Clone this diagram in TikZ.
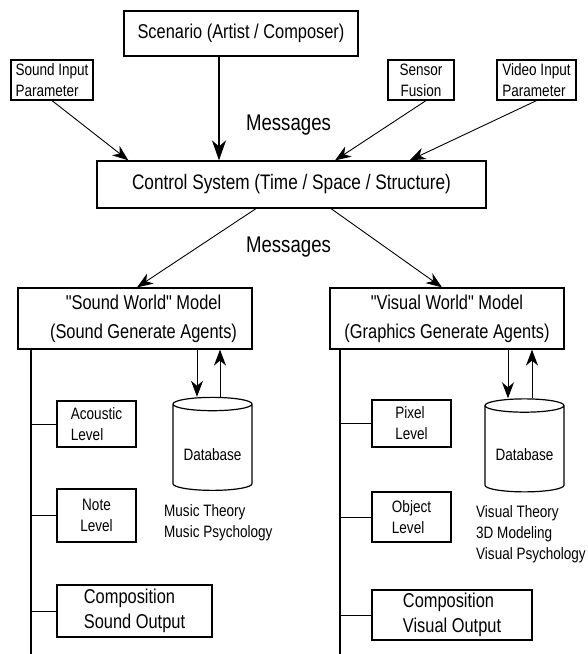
\documentclass[tikz,border=0pt]{standalone}
\usepackage{fontspec}
\setmainfont{Liberation Sans}[FakeStretch=0.82, Ligatures=TeXOff]
\usetikzlibrary{positioning, shapes.geometric, arrows.meta}

\begin{document}
\begin{tikzpicture}[x=1pt, y=-1pt,
        box/.style={draw, line width=1.2pt, inner sep=0pt, font=\fontsize{16.5}{21}\selectfont},
        bigbox/.style={box, font=\fontsize{20}{25}\selectfont},
        dbase/.style={draw, line width=1.2pt, cylinder, shape border rotate=90, aspect=0.23,
            minimum width=79pt, minimum height=93pt, inner sep=0pt, font=\fontsize{16.5}{21}\selectfont},
        note/.style={inner sep=0pt, align=left, anchor=west, font=\fontsize{16.5}{21}\selectfont},
        arr/.style={-{Stealth[length=16pt, width=12pt, inset=5pt]}, line width=0.9pt},
        bigarr/.style={-{Stealth[length=20pt, width=14pt, inset=6pt]}, line width=2pt},
        bus/.style={line width=2pt}]
        \useasboundingbox (0,0) rectangle (587,654);

        % Draw the input boxes
        \node[bigbox, minimum width=234pt, minimum height=45pt] (scen) at (241,33.5) {Scenario (Artist / Composer)};
        \node[box, minimum width=82pt, minimum height=40pt, align=left] (sinp) at (52,80) {Sound Input\\Parameter};
        \node[box, minimum width=66pt, minimum height=40pt, align=center] (sfus) at (421,80) {Sensor\\Fusion};
        \node[box, minimum width=79pt, minimum height=40pt, align=left] (vinp) at (536.5,80) {Video Input\\Parameter};

        % Draw the control system
        \node[bigbox, minimum width=389pt, minimum height=47pt, font=\fontsize{21}{25}\selectfont] (ctrl) at (291.5,184.5) {Control System (Time / Space / Structure)};
        \node[font=\fontsize{22.7}{27}\selectfont] (msg1) at (288.5,125) {Messages};
        \node[font=\fontsize{22.7}{27}\selectfont] (msg2) at (288.5,247) {Messages};

        % Draw the two world models
        \node[bigbox, minimum width=234pt, minimum height=61pt, align=center] (swm) at (135,318.5) {\hspace*{17pt}"Sound World" Model\\[4pt]\hspace*{17pt}(Sound Generate Agents)};
        \node[bigbox, minimum width=234pt, minimum height=61pt, align=center] (vwm) at (447,318.5) {"Visual World" Model\\[4pt](Graphics Generate Agents)};

        % Draw the sound levels
        \node[box, minimum width=79pt, minimum height=46pt, align=left] (acl) at (96.5,424) {Acoustic\\Level};
        \node[box, minimum width=79pt, minimum height=53pt, align=center] (ntl) at (96.5,515.5) {Note\\Level};
        \node[bigbox, minimum width=155pt, minimum height=52pt, align=left] (scmp) at (134.5,611) {Composition\\Sound Output};

        % Draw the visual levels
        \node[box, minimum width=79pt, minimum height=47pt, align=left] (pxl) at (411.5,423.5) {Pixel\\Level};
        \node[box, minimum width=79pt, minimum height=50pt, align=left] (obl) at (411.5,517) {Object\\Level};
        \node[bigbox, minimum width=160pt, minimum height=50pt, align=left] (vcmp) at (452,615) {Composition\\Visual Output};

        % Draw the databases
        \node[dbase] (sdb) at (212.5,447.5) {\raisebox{-7pt}[\height][\depth]{Database}};
        \node[dbase] (vdb) at (524.5,449) {\raisebox{-6pt}[\height][\depth]{Database}};
        \node[note] (smus) at (164,522.5) {Music Theory\\Music Psychology};
        \node[note] (vmus) at (476,534.5) {Visual Theory\\3D Modeling\\Visual Psychology};

        % Draw edges into the control system
        \draw[bigarr] ([xshift=-22pt]scen.south) -- ([xshift=-22pt]scen.south |- ctrl.north);
        \draw[arr] (sinp.south) -- ([xshift=32pt]ctrl.north west);
        \draw[arr] ([xshift=5pt]sfus.south) -- ([xshift=43.5pt]ctrl.north);
        \draw[arr] (vinp.south) -- ([xshift=-77pt]ctrl.north east);

        % Draw edges to the world models
        \draw[arr] ([xshift=-35.5pt]ctrl.south) -- ([xshift=2pt]swm.north);
        \draw[arr] ([xshift=39.5pt]ctrl.south) -- ([xshift=-5pt]vwm.north);

        % Draw edges between models and databases
        \coordinate (sdown) at (197,0);
        \coordinate (sup) at (220,0);
        \coordinate (vdown) at (508,0);
        \coordinate (vup) at (532,0);
        \draw[arr] (swm.south -| sdown) -- (sdb.north -| sdown);
        \draw[arr] (sdb.north -| sup) -- (swm.south -| sup);
        \draw[arr] (vwm.south -| vdown) -- (vdb.north -| vdown);
        \draw[arr] (vdb.north -| vup) -- (vwm.south -| vup);

        % Draw the level buses
        \coordinate (sbus) at (31,654);
        \coordinate (vbus) at (340,654);
        \draw[bus] (swm.south -| sbus) -- (sbus);
        \draw[bus] (vwm.south -| vbus) -- (vbus);
        \draw (acl.west) -- (acl.west -| sbus);
        \draw (ntl.west) -- (ntl.west -| sbus);
        \draw (scmp.west) -- (scmp.west -| sbus);
        \draw (pxl.west) -- (pxl.west -| vbus);
        \draw (obl.west) -- (obl.west -| vbus);
        \draw (vcmp.west) -- (vcmp.west -| vbus);
\end{tikzpicture}
\end{document}
